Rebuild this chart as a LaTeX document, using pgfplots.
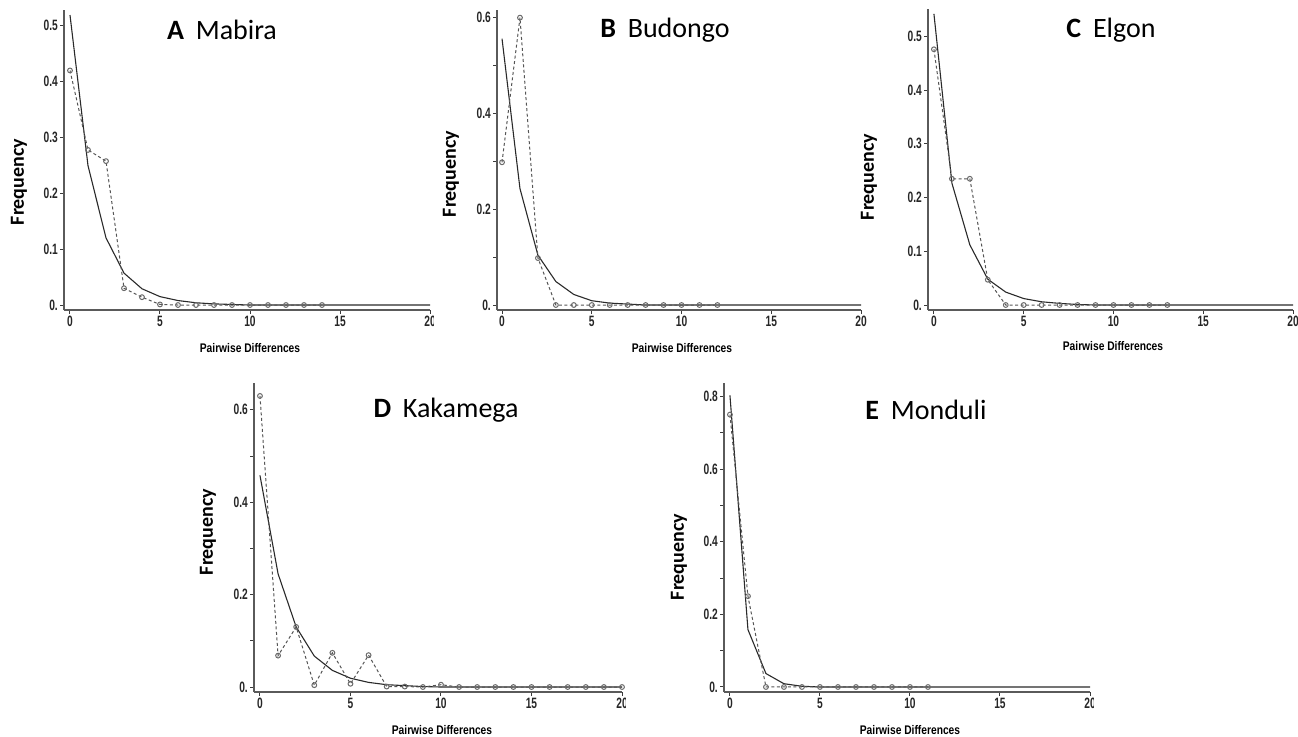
\documentclass[border=0pt]{standalone}
\usepackage{pgfplots}
\pgfplotsset{compat=1.18}
\usepackage{fontspec}
\setmainfont{Carlito}
\newfontfamily\condfont[FakeStretch=0.68]{Liberation Sans}
\newfontfamily\labfont[FakeStretch=0.82]{Liberation Sans}
\definecolor{axc}{HTML}{5A5A5A}
\definecolor{tickc}{HTML}{3A3A3A}
\definecolor{modc}{HTML}{2A2A2A}
\definecolor{obsc}{HTML}{555555}
\definecolor{circc}{HTML}{6A6A6A}

\pgfplotsset{
  panel/.style={
    scale only axis,
    axis x line*=bottom, axis y line*=left,
    anchor=south west,
    tick align=outside,
    major tick length=4bp, minor tick length=4bp,
    every tick/.style={line width=1bp, tickc},
    axis line style={line width=1.4bp, axc},
    xmax=20,
    xtick={0,5,10,15,20}, xticklabels={0,5,10,15,20},
    ticklabel style={font=\condfont\bfseries\fontsize{15bp}{15bp}\selectfont, text=black!85},
    xticklabel style={inner sep=2bp},
    yticklabel style={inner sep=2bp},
    clip=false,
  },
  model/.style={modc, line width=1.1bp, no marks},
  obs/.style={obsc, line width=1bp, dash pattern=on 3bp off 2.5bp,
    mark=o, mark size=2.4bp, mark options={solid, circc, line width=1bp}},
}

\newcommand{\ttl}[2]{{\fontsize{28bp}{30bp}\selectfont\textbf{#1}\hspace{0.42em}#2}}
\newcommand{\freq}{{\fontsize{20bp}{22bp}\selectfont\bfseries Frequency}}
\newcommand{\pw}{{\labfont\bfseries\fontsize{12.5bp}{13bp}\selectfont Pairwise Differences}}

\begin{document}
\begin{tikzpicture}
\useasboundingbox (0,0) rectangle (1298bp,-737bp);

% ---------- A Mabira
\begin{scope}
\clip (0,0) rectangle (433bp,-362bp);
\begin{axis}[panel, at={(64bp,-310bp)}, width=366bp, height=300bp,
  xmin=-0.333, ymin=-0.0089, ymax=0.527,
  ytick={0,0.1,0.2,0.3,0.4,0.5}, yticklabels={0.,0.1,0.2,0.3,0.4,0.5}]
\addplot[model] coordinates {(0,0.518)(1,0.249)(2,0.120)(3,0.057)(4,0.029)(5,0.015)(6,0.008)(7,0.004)(8,0.002)(9,0.001)(10,0)(20,0)};
\addplot[obs] coordinates {(0,0.419)(1,0.277)(2,0.257)(3,0.030)(4,0.014)(5,0.001)(6,0)(7,0)(8,0)(9,0)(10,0)(11,0)(12,0)(13,0)(14,0)};
\end{axis}
\end{scope}
\node at (222bp,-30bp) {\ttl{A}{Mabira}};
\node[rotate=90] at (19bp,-182bp) {\freq};
\node at (250bp,-348bp) {\pw};

% ---------- B Budongo
\begin{scope}
\clip (433bp,0) rectangle (866bp,-362bp);
\begin{axis}[panel, at={(497bp,-310bp)}, width=364bp, height=300bp,
  xmin=-0.28, ymin=-0.0104, ymax=0.616,
  ytick={0,0.2,0.4,0.6}, yticklabels={0.,0.2,0.4,0.6},
  minor ytick={0.1,0.3,0.5}]
\addplot[model] coordinates {(0,0.556)(1,0.243)(2,0.104)(3,0.049)(4,0.022)(5,0.009)(6,0.004)(7,0.002)(8,0)(20,0)};
\addplot[obs] coordinates {(0,0.298)(1,0.600)(2,0.098)(3,0)(4,0)(5,0)(6,0)(7,0)(8,0)(9,0)(10,0)(11,0)(12,0)};
\end{axis}
\end{scope}
\node at (665bp,-30bp) {\ttl{B}{Budongo}};
\node[rotate=90] at (451bp,-174bp) {\freq};
\node at (682bp,-348bp) {\pw};

% ---------- C Elgon
\begin{scope}
\clip (866bp,0) rectangle (1298bp,-362bp);
\begin{axis}[panel, at={(928bp,-310bp)}, width=365bp, height=301bp,
  xmin=-0.33, ymin=-0.0093, ymax=0.551,
  ytick={0,0.1,0.2,0.3,0.4,0.5}, yticklabels={0.,0.1,0.2,0.3,0.4,0.5}]
\addplot[model] coordinates {(0,0.542)(1,0.227)(2,0.112)(3,0.048)(4,0.024)(5,0.012)(6,0.006)(7,0.003)(8,0.001)(9,0)(20,0)};
\addplot[obs] coordinates {(0,0.476)(1,0.235)(2,0.235)(3,0.047)(4,0)(5,0)(6,0)(7,0)(8,0)(9,0)(10,0)(11,0)(12,0)(13,0)};
\end{axis}
\end{scope}
\node at (1111bp,-30bp) {\ttl{C}{Elgon}};
\node[rotate=90] at (869bp,-177bp) {\freq};
\node at (1113bp,-346bp) {\pw};

% ---------- D Kakamega
\begin{scope}
\clip (180bp,-362bp) rectangle (625bp,-737bp);
\begin{axis}[panel, at={(254bp,-692bp)}, width=368bp, height=309bp,
  xmin=-0.33, ymin=-0.0108, ymax=0.658,
  ytick={0,0.2,0.4,0.6}, yticklabels={0.,0.2,0.4,0.6},
  minor ytick={0.1,0.3,0.5}]
\addplot[model] coordinates {(0,0.458)(1,0.245)(2,0.130)(3,0.067)(4,0.036)(5,0.019)(6,0.010)(7,0.005)(8,0.003)(9,0.001)(10,0)(20,0)};
\addplot[obs] coordinates {(0,0.630)(1,0.068)(2,0.130)(3,0.004)(4,0.074)(5,0.007)(6,0.069)(7,0.001)(8,0.001)(9,0)(10,0.005)(11,0)(12,0)(13,0)(14,0)(15,0)(16,0)(17,0)(18,0)(19,0)(20,0)};
\end{axis}
\end{scope}
\node at (446bp,-410bp) {\ttl{D}{Kakamega}};
\node[rotate=90] at (208bp,-532bp) {\freq};
\node at (442bp,-730bp) {\pw};

% ---------- E Monduli
\begin{scope}
\clip (640bp,-362bp) rectangle (1093bp,-737bp);
\begin{axis}[panel, at={(724bp,-692bp)}, width=366bp, height=309bp,
  xmin=-0.33, ymin=-0.0138, ymax=0.837,
  ytick={0,0.2,0.4,0.6,0.8}, yticklabels={0.,0.2,0.4,0.6,0.8},
  minor ytick={0.1,0.3,0.5,0.7}]
\addplot[model] coordinates {(0,0.803)(1,0.158)(2,0.037)(3,0.009)(4,0.002)(5,0)(20,0)};
\addplot[obs] coordinates {(0,0.750)(1,0.250)(2,0)(3,0)(4,0)(5,0)(6,0)(7,0)(8,0)(9,0)(10,0)(11,0)};
\end{axis}
\end{scope}
\node at (926bp,-410bp) {\ttl{E}{Monduli}};
\node[rotate=90] at (679bp,-557bp) {\freq};
\node at (910bp,-730bp) {\pw};

\end{tikzpicture}
\end{document}
